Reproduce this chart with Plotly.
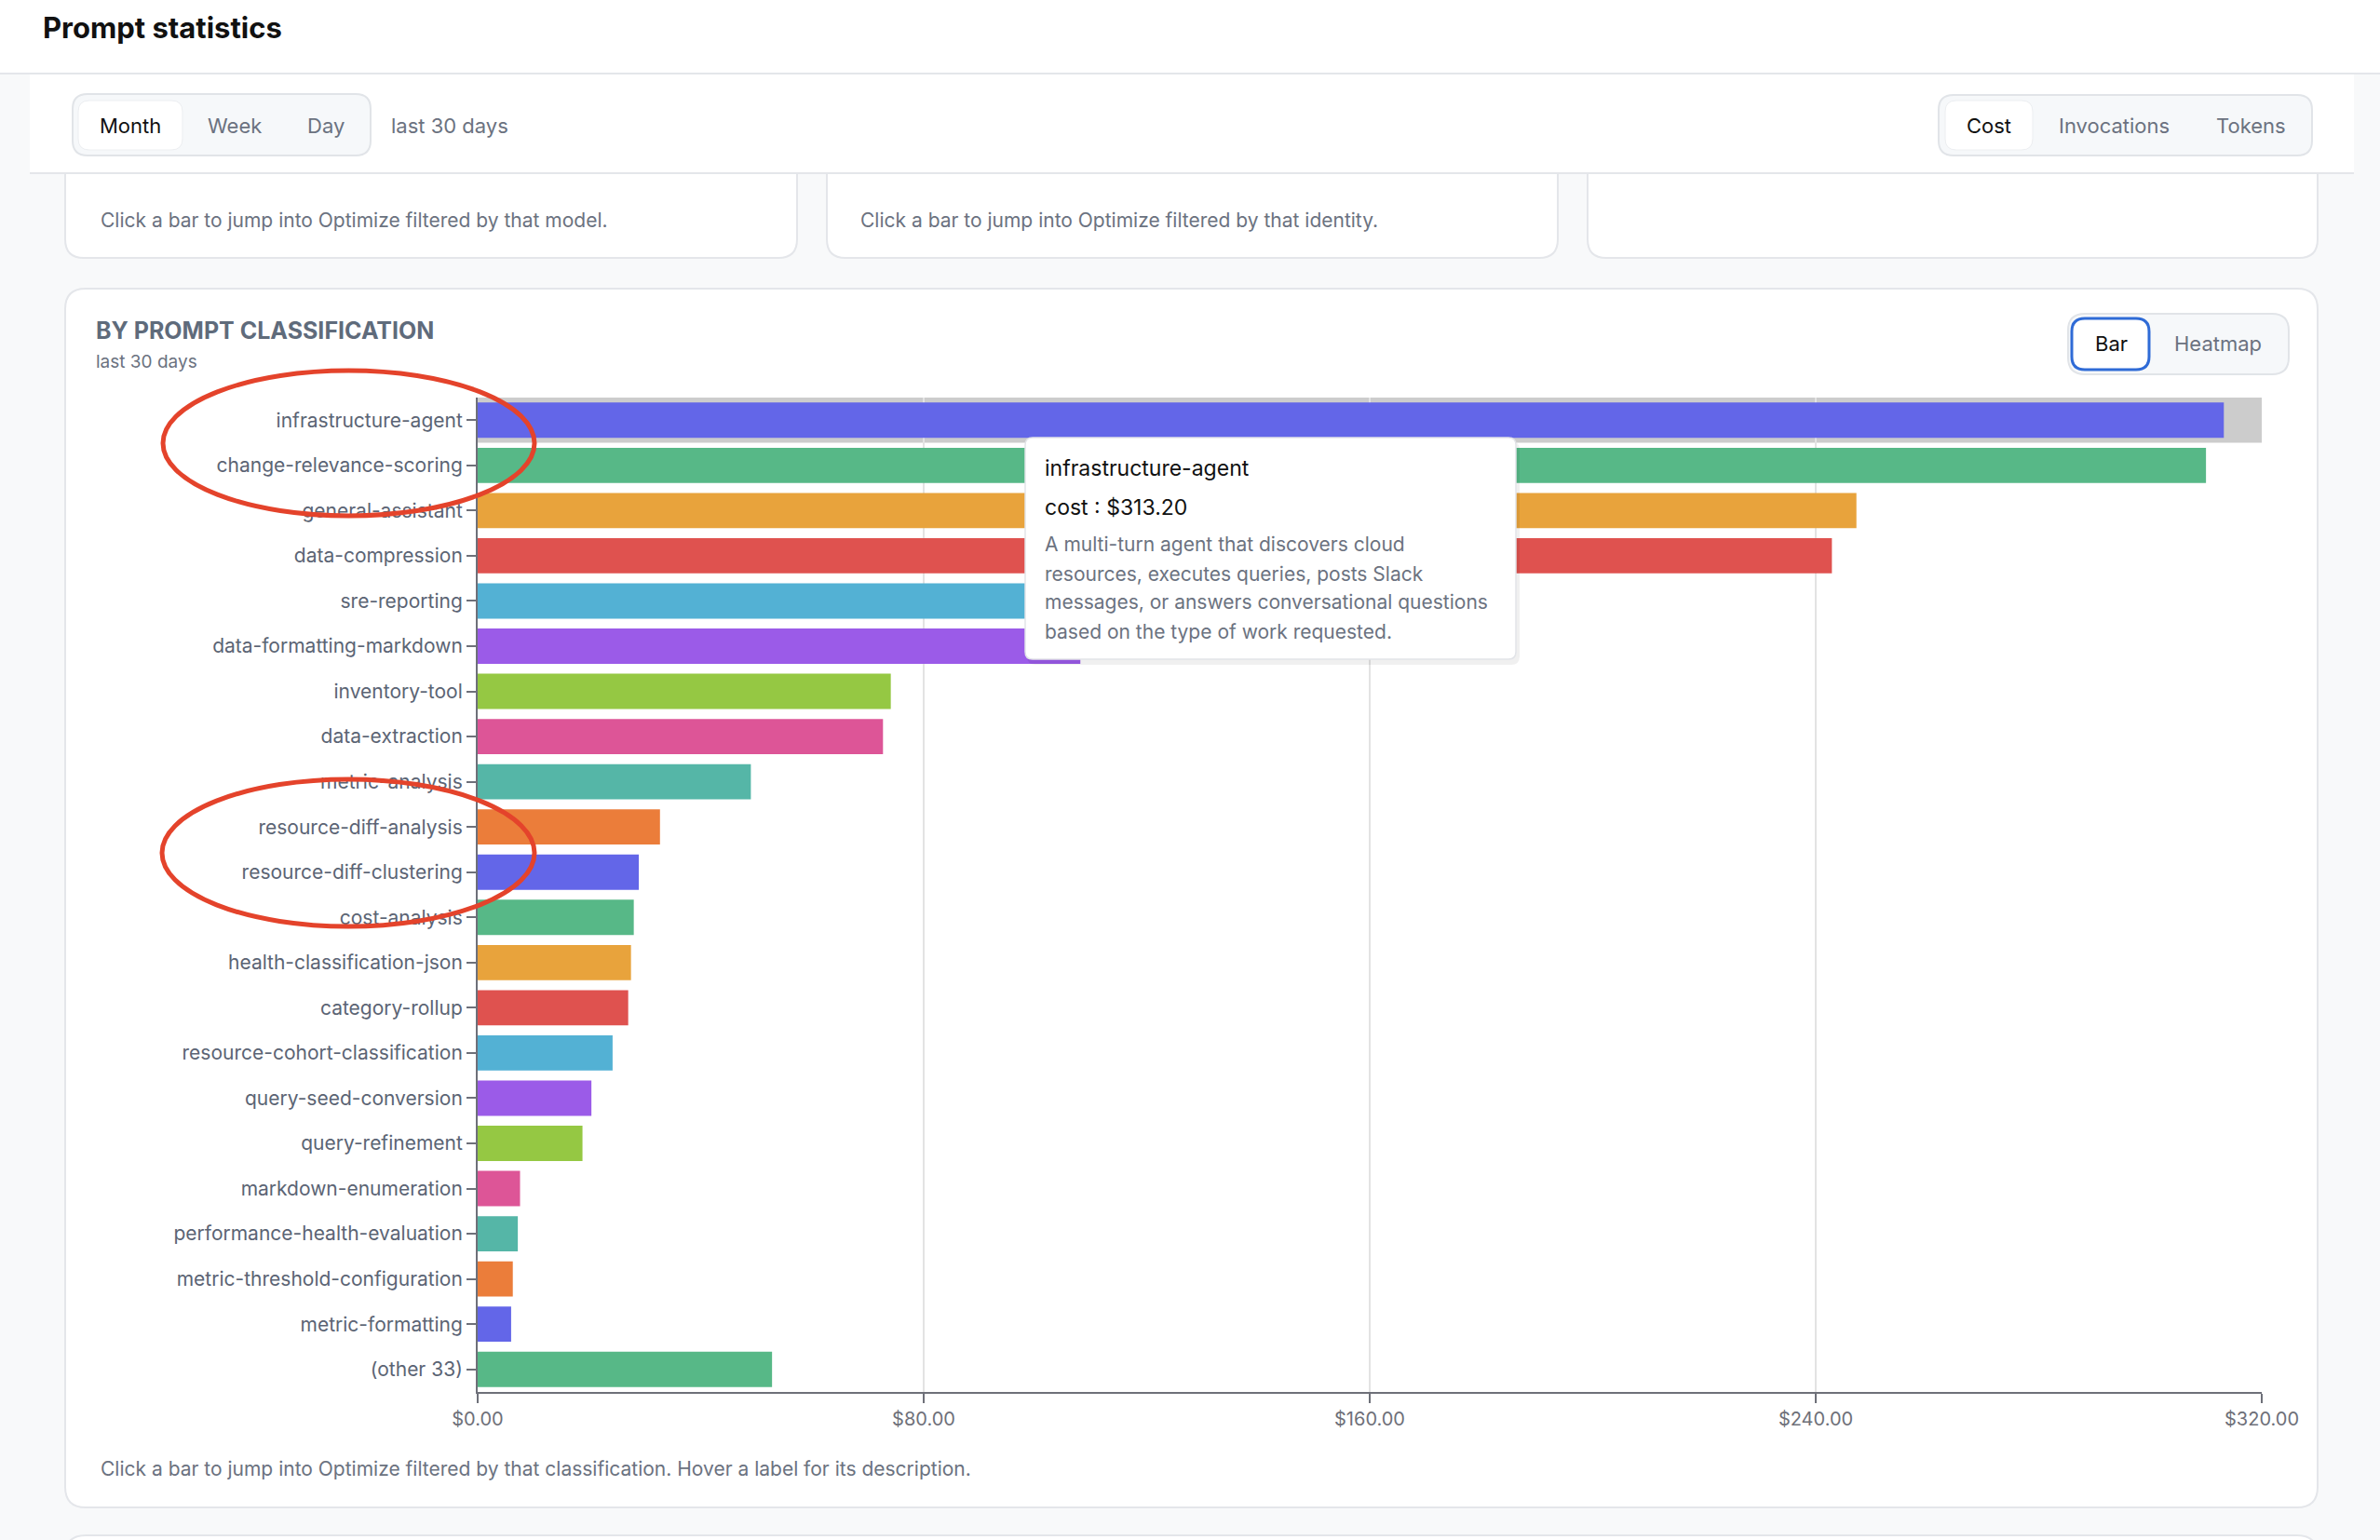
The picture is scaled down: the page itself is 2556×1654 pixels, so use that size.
import plotly.graph_objects as go

# ---------------- data ----------------
categories = [
    "infrastructure-agent", "change-relevance-scoring", "general-assistant",
    "data-compression", "sre-reporting", "data-formatting-markdown",
    "inventory-tool", "data-extraction", "metric-analysis",
    "resource-diff-analysis", "resource-diff-clustering", "cost-analysis",
    "health-classification-json", "category-rollup",
    "resource-cohort-classification", "query-seed-conversion",
    "query-refinement", "markdown-enumeration",
    "performance-health-evaluation", "metric-threshold-configuration",
    "metric-formatting", "(other 33)",
]
cost_values = [
    313.20, 310.0, 247.3, 242.9, 150.0, 108.1,
    74.1, 72.7, 49.0, 32.7, 28.9, 28.0,
    27.5, 27.0, 24.2, 20.4, 18.8, 7.6,
    7.2, 6.3, 6.0, 52.8,
]
palette = ["#6366E8", "#57B887", "#E8A33C", "#DF524F", "#53B1D4",
           "#9B5BE8", "#95C843", "#DD5597", "#55B6A7", "#EB7D3A"]
x_tick_values = [0, 80, 160, 240, 320]
x_tick_labels = ["$0.00", "$80.00", "$160.00", "$240.00", "$320.00"]
period_options = ["Month", "Week", "Day"]
metric_options = ["Cost", "Invocations", "Tokens"]
view_options = ["Bar", "Heatmap"]
tooltip_title = "infrastructure-agent"
tooltip_desc = [
    "A multi-turn agent that discovers cloud",
    "resources, executes queries, posts Slack",
    "messages, or answers conversational questions",
    "based on the type of work requested.",
]

# ---------------- geometry helpers ----------------
W, H = 2556, 1654
FONT = "Inter, 'Noto Sans', sans-serif"
GRAY = "#6b7280"
BORDER = "#e4e6ea"


def px(x):
    return x / W


def py(y):
    return 1 - y / H


def rrect_path(x0, y0, x1, y1, r):
    def p(x, y):
        return f"{px(x):.6f},{py(y):.6f}"
    return (f"M {p(x0 + r, y0)} L {p(x1 - r, y0)} Q {p(x1, y0)} {p(x1, y0 + r)} "
            f"L {p(x1, y1 - r)} Q {p(x1, y1)} {p(x1 - r, y1)} "
            f"L {p(x0 + r, y1)} Q {p(x0, y1)} {p(x0, y1 - r)} "
            f"L {p(x0, y0 + r)} Q {p(x0, y0)} {p(x0 + r, y0)} Z")


shapes = []
annotations = []


def box(x0, y0, x1, y1, r, fill, line=None, lw=0, layer="below"):
    shapes.append(dict(type="path", xref="paper", yref="paper",
                       path=rrect_path(x0, y0, x1, y1, r), fillcolor=fill,
                       line=dict(color=line or fill, width=lw), layer=layer))


def rect(x0, y0, x1, y1, fill, layer="below"):
    shapes.append(dict(type="rect", xref="paper", yref="paper",
                       x0=px(x0), x1=px(x1), y0=py(y1), y1=py(y0),
                       fillcolor=fill, line=dict(width=0), layer=layer))


def hline(x0, x1, y, color, w=2, layer="below"):
    shapes.append(dict(type="line", xref="paper", yref="paper",
                       x0=px(x0), x1=px(x1), y0=py(y), y1=py(y),
                       line=dict(color=color, width=w), layer=layer))


def text(x, y, s, size, color, anchor="left", bold=False):
    annotations.append(dict(xref="paper", yref="paper", x=px(x), y=py(y),
                            text=f"<b>{s}</b>" if bold else s, showarrow=False,
                            xanchor=anchor, yanchor="middle",
                            font=dict(size=size, color=color, family=FONT)))


# upper cards (partially hidden)
for cx0, cx1 in [(70, 856), (888, 1673), (1705, 2489)]:
    box(cx0, 40, cx1, 277, 20, "white", BORDER, 2)
text(106, 237, "Click a bar to jump into Optimize filtered by that model.", 21, GRAY)
text(922, 237, "Click a bar to jump into Optimize filtered by that identity.", 21, GRAY)

# header
rect(0, 0, W, 79, "white")
hline(0, W, 79, BORDER, 2)
text(44, 29, "Prompt statistics", 31, "#111111", bold=True)

# filter bar
rect(32, 80, 2528, 186, "white")
hline(32, 2528, 186, BORDER, 2)
box(78, 101, 398, 167, 16, "#f6f8fa", "#e1e4e8", 2)
box(84, 108, 196, 161, 12, "white", "#eceef1", 1)
for label, cx in zip(period_options, [140, 252, 350]):
    text(cx, 135, label, 22, "#111111" if label == "Month" else GRAY, anchor="center")
text(418, 135, "last 30 days", 22, GRAY)
box(2082, 102, 2483, 167, 16, "#f6f8fa", "#e1e4e8", 2)
box(2089, 108, 2183, 161, 12, "white", "#eceef1", 1)
for label, cx in zip(metric_options, [2136, 2270, 2417]):
    text(cx, 135, label, 22, "#111111" if label == "Cost" else GRAY, anchor="center")

# main card
box(70, 310, 2489, 1619, 22, "white", BORDER, 2)
text(101, 355, "BY PROMPT CLASSIFICATION", 25, "#5f6b7b", bold=True)
text(101, 389, "last 30 days", 19, GRAY)
box(2221, 337, 2458, 402, 18, "#f6f8fa", "#e1e4e8", 2)
box(2225, 342, 2308, 397, 14, "white", "#2f6bd6", 3)
for label, cx in zip(view_options, [2267, 2382]):
    text(cx, 369, label, 22, "#111111" if label == "Bar" else GRAY, anchor="center")
text(106, 1577, "Click a bar to jump into Optimize filtered by that classification. "
     "Hover a label for its description.", 21, GRAY)

# next card top
box(70, 1649, 2489, 1740, 22, "white", BORDER, 2)

# hover highlight band behind first category
shapes.append(dict(type="rect", xref="x", yref="y", x0=0, x1=x_tick_values[-1],
                   y0=-0.5, y1=0.5, fillcolor="#cccccc", line=dict(width=0),
                   layer="below"))

# tooltip
box(1103, 474, 1632, 714, 9, "rgba(0,0,0,0.06)", layer="above")
box(1101, 470, 1628, 708, 8, "white", "#e2e4e8", 1.5, layer="above")
text(1120, 503, tooltip_title, 23, "#111111")
text(1120, 545, f"cost : ${cost_values[0]:.2f}", 23, "#111111")
for i, line in enumerate(tooltip_desc):
    text(1120, 585 + i * 31, line, 21, GRAY)

# red hand-drawn ellipses
for (ex0, ey0, ex1, ey1) in [(175, 398, 574, 554), (174, 837, 574, 995)]:
    shapes.append(dict(type="circle", xref="paper", yref="paper",
                       x0=px(ex0), x1=px(ex1), y0=py(ey1), y1=py(ey0),
                       line=dict(color="#e4432b", width=5), layer="above"))

colors = [palette[i % len(palette)] for i in range(len(categories))]

fig = go.Figure(go.Bar(
    x=cost_values, y=categories, orientation="h",
    marker=dict(color=colors, line=dict(width=0)), width=0.78,
    hoverinfo="skip",
))

fig.update_layout(
    width=W, height=H, margin=dict(l=0, r=0, t=0, b=0, autoexpand=False),
    paper_bgcolor="#f8f9fa", plot_bgcolor="white",
    font=dict(family=FONT), showlegend=False,
    shapes=shapes, annotations=annotations,
    xaxis=dict(domain=[px(513), px(2429)], range=[0, 320], automargin=False,
               tickvals=x_tick_values, ticktext=x_tick_labels,
               showgrid=True, gridcolor="#e3e3e3", gridwidth=2,
               zeroline=False, showline=True, linecolor="#6e7079", linewidth=2,
               ticks="outside", ticklen=10, tickwidth=2, tickcolor="#6e7079",
               tickfont=dict(size=20, color="#6e7079", family=FONT), fixedrange=True),
    yaxis=dict(domain=[py(1495), py(427)], type="category", automargin=False,
               categoryorder="array", categoryarray=categories,
               range=[len(categories) - 0.5, -0.5],
               showgrid=False, zeroline=False, showline=True,
               linecolor="#6e7079", linewidth=2,
               ticks="outside", ticklen=10, tickwidth=2, tickcolor="#6e7079",
               ticklabelstandoff=0,
               tickfont=dict(size=21, color="#5b6474", family=FONT), fixedrange=True),
    bargap=0.2,
)

fig.write_html("out.html", config={"displayModeBar": False},
               post_script="document.body.style.margin='0';document.body.style.overflow='hidden';")
